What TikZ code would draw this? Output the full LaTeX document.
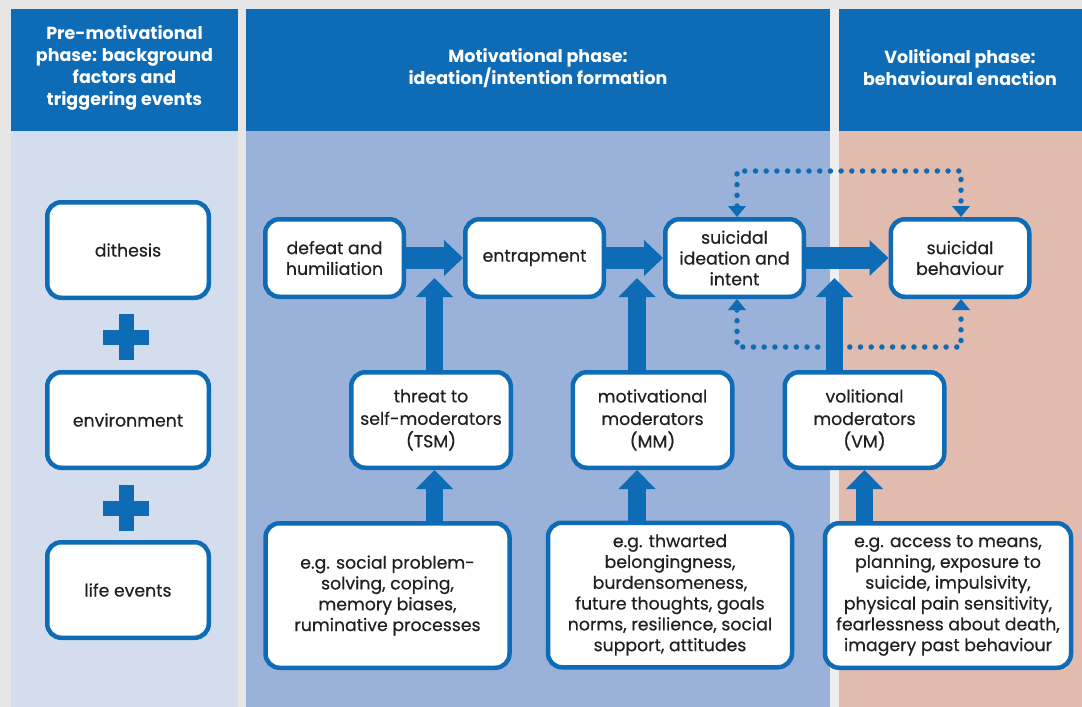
\documentclass[tikz,border=0pt]{standalone}
\usepackage{fontspec}
\setmainfont{Poppins}
\newfontfamily\boxfont{Poppins}[FakeBold=0.5]
\usetikzlibrary{arrows.meta}
\definecolor{hblue}{RGB}{14,107,181}
\definecolor{cone}{RGB}{211,221,238}
\definecolor{ctwo}{RGB}{154,177,217}
\definecolor{cthree}{RGB}{225,187,173}
\definecolor{bgc}{RGB}{230,230,230}
\definecolor{gapc}{RGB}{238,238,238}
\definecolor{txt}{RGB}{35,31,32}
\begin{document}
\begin{tikzpicture}[x=1pt,y=-1pt,
  box/.style={draw=hblue, line width=4.5pt, fill=white, rounded corners=14pt, align=center, text=txt, font=\boxfont\fontsize{17.3}{20.8}\selectfont, inner sep=0pt},
  lbox/.style={box, minimum width=161.5pt, minimum height=95.5pt},
  tbox/.style={box, minimum width=138.5pt, minimum height=77.5pt},
  mbox/.style={box, minimum width=159.5pt, minimum height=95.5pt, font=\boxfont\fontsize{17.3}{22.5}\selectfont},
  ebox/.style={box, minimum width=244pt, minimum height=144.5pt},
  head/.style={align=center, text=white, font=\bfseries\fontsize{17.5}{22}\selectfont},
  harrow/.style={hblue, line width=22pt, -{Triangle[width=36pt,length=19pt,line width=0pt]}},
  varrow/.style={hblue, line width=17.5pt, -{Triangle[width=37pt,length=19pt,line width=0pt]}},
  dotline/.style={hblue, line width=5.5pt, line cap=round, dash pattern=on 0pt off 10.7pt, {Triangle[width=18pt,length=11pt,line width=0pt]}-{Triangle[width=18pt,length=11pt,line width=0pt]}},
  plus/.style={fill=hblue}
]
\useasboundingbox (0,0) rectangle (1082,707);
\fill[bgc] (0,0) rectangle (1082,707);
\fill[gapc] (830,9) rectangle (839,707);
% columns
\fill[cone] (11,131) rectangle (238,707);
\fill[hblue] (11,9) rectangle (238,131);
\fill[ctwo] (246,131) rectangle (830,707);
\fill[hblue] (246,9) rectangle (830,131);
\fill[cthree] (839,131) rectangle (1082,707);
\fill[hblue] (839,9) rectangle (1082,131);
% headers
\node[head] (h1) at (124.5,68) {Pre-motivational\\phase: background\\factors and\\triggering events};
\node[head] (h2) at (538,68) {Motivational phase:\\ideation/intention formation};
\node[head] (h3) at (960,68) {Volitional phase:\\behavioural enaction};
% left column
\node[lbox] (dit) at (128,250) {dithesis};
\node[lbox] (env) at (128,420) {environment};
\node[lbox] (life) at (128,590) {life events};
\fill[plus] (118.5,314) rectangle (133.5,360);
\fill[plus] (103,329.5) rectangle (149,344.5);
\fill[plus] (118.5,485) rectangle (133.5,531);
\fill[plus] (103,500.5) rectangle (149,515.5);
% top row
\node[tbox] (def) at (334.5,258) {defeat and\\humiliation};
\node[tbox] (ent) at (534.5,258) {entrapment};
\node[tbox] (ide) at (734.5,258) {suicidal\\ideation and\\intent};
\node[tbox] (beh) at (960,258) {suicidal\\behaviour};
% moderators
\node[mbox] (tsm) at (431,420) {threat to\\self-moderators\\(TSM)};
\node[mbox] (mm) at (652.5,420) {motivational\\moderators\\(MM)};
\node[mbox] (vm) at (864.5,420) {volitional\\moderators\\(VM)};
% examples
\node[ebox] (ex1) at (387.5,595.5) {e.g. social problem-\\solving, coping,\\memory biases,\\ruminative processes};
\node[ebox] (ex2) at (670,595) {e.g. thwarted\\belongingness,\\burdensomeness,\\future thoughts, goals\\norms, resilience, social\\support, attitudes};
\node[ebox, minimum width=246pt] (ex3) at (948,595.5) {e.g. access to means,\\planning, exposure to\\suicide, impulsivity,\\physical pain sensitivity,\\fearlessness about death,\\imagery past behaviour};
% horizontal arrows
\draw[harrow] (def.east) -- (ent.west);
\draw[harrow] (ent.east) -- (ide.west);
\draw[harrow] (ide.east) -- (beh.west);
% vertical arrows
\coordinate (u1) at (434.5,278);
\coordinate (u2) at (637,278);
\coordinate (u3) at (834.5,278);
\draw[varrow] (tsm.north -| u1) -- (u1);
\draw[varrow] (mm.north -| u2) -- (u2);
\draw[varrow] (vm.north -| u3) -- (u3);
\draw[varrow] (ex1.north -| u1) -- (tsm.south -| u1);
\draw[varrow] (ex2.north -| u2) -- (mm.south -| u2);
\draw[varrow] (ex3.north -| vm.south) -- (vm.south);
% dotted loops
\coordinate (d1) at (737,171);
\coordinate (d2) at (961,171);
\coordinate (d3) at (737,347);
\coordinate (d4) at (961,347);
\draw[dotline] (ide.north -| d1) -- (d1) -- (d2) -- (beh.north -| d2);
\draw[dotline] (ide.south -| d3) -- (d3) -- (d4) -- (beh.south -| d4);
\end{tikzpicture}
\end{document}
